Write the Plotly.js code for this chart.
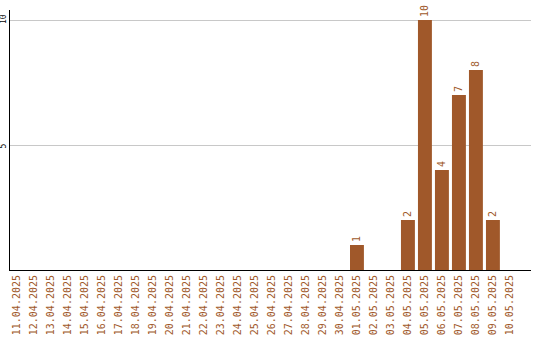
<!DOCTYPE html>
<html>
<head>
<meta charset="utf-8">
<script src="https://cdn.plot.ly/plotly-3.0.1.min.js"></script>
<style>html,body{margin:0;padding:0;background:#fff;}#chart{width:540px;height:340px;}</style>
</head>
<body>
<div id="chart"></div>
<script>
var dates = ["11.04.2025","12.04.2025","13.04.2025","14.04.2025","15.04.2025","16.04.2025","17.04.2025","18.04.2025","19.04.2025","20.04.2025","21.04.2025","22.04.2025","23.04.2025","24.04.2025","25.04.2025","26.04.2025","27.04.2025","28.04.2025","29.04.2025","30.04.2025","01.05.2025","02.05.2025","03.05.2025","04.05.2025","05.05.2025","06.05.2025","07.05.2025","08.05.2025","09.05.2025","10.05.2025"];
var counts = [0,0,0,0,0,0,0,0,0,0,0,0,0,0,0,0,0,0,0,0,1,0,0,2,10,4,7,8,2,0];
var yTicks = [5, 10];

var barColor = '#A0582A';
var labels = counts.map(function(v){ return v ? String(v) : ''; });

var trace = {
  type: 'bar',
  x: dates,
  y: counts,
  text: labels,
  texttemplate: '%{text}',
  textposition: 'outside',
  textangle: -90,
  cliponaxis: false,
  outsidetextfont: {family: 'DejaVu Sans Mono', size: 10, color: barColor},
  marker: {color: barColor, line: {width: 0}},
  hoverinfo: 'none'
};

var yLabelAnnotations = yTicks.map(function(v){
  return {
    xref: 'paper', yref: 'y', x: 0, y: v,
    text: String(v), showarrow: false,
    textangle: -90, xanchor: 'right', yanchor: 'bottom',
    height: 8, valign: 'middle',
    xshift: -2, yshift: -5, borderpad: 0,
    font: {family: 'DejaVu Sans Mono', size: 8, color: '#000'}
  };
});

var layout = {
  width: 540, height: 340,
  margin: {l: 10, r: 9, t: 10, b: 70},
  paper_bgcolor: '#fff', plot_bgcolor: '#fff',
  bargap: 0.18,
  showlegend: false,
  annotations: yLabelAnnotations,
  xaxis: {
    type: 'category',
    range: [-0.41, 30.24],
    tickangle: -90,
    tickfont: {family: 'DejaVu Sans Mono', size: 10, color: barColor},
    showline: true, linecolor: '#000', linewidth: 1,
    showgrid: false, ticks: '', zeroline: false, fixedrange: true
  },
  yaxis: {
    range: [0, 10.4],
    tickvals: yTicks,
    showticklabels: false,
    showline: true, linecolor: '#000', linewidth: 1,
    showgrid: true, gridcolor: '#c8c8c8', gridwidth: 1,
    ticks: '', zeroline: false, fixedrange: true, automargin: false
  }
};

Plotly.newPlot('chart', [trace], layout, {displayModeBar: false, staticPlot: true});
</script>
</body>
</html>
